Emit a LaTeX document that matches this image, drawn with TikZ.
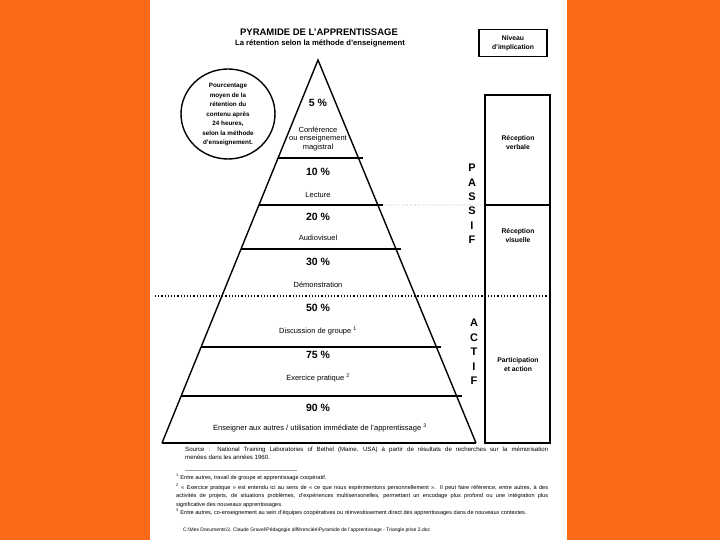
\documentclass[tikz,border=0pt]{standalone}
\usepackage{fontspec}
\setsansfont{Liberation Sans}
\usetikzlibrary{calc}
\definecolor{cFond}{HTML}{F86A18}
\definecolor{cGris}{HTML}{A0A0A0}
\tikzset{
    x=1pt, y=-1pt, font=\sffamily,
    bord/.style={line width=1.4pt, line join=miter},
    palier/.style={line width=1.1pt},
    palierfort/.style={line width=2pt},
    pct/.style={font=\sffamily\bfseries\fontsize{10.5}{12}\selectfont, inner sep=1pt},
    meth/.style={font=\sffamily\fontsize{7.5}{11}\selectfont, align=center, inner sep=1pt},
    lettres/.style={font=\sffamily\bfseries\fontsize{11}{14.4}\selectfont, align=center, inner sep=0pt},
    boite/.style={draw, line width=1.3pt},
    boitelbl/.style={font=\sffamily\bfseries\fontsize{6.8}{9}\selectfont, align=center, inner sep=1pt},
    note/.style={font=\sffamily\fontsize{5.6}{8.4}\selectfont, align=justify, inner sep=0pt, anchor=north west},
}
\begin{document}
\begin{tikzpicture}
    % fond et page
    \fill[cFond] (0,0) rectangle (720,540);
    \fill[white] (150,0) rectangle (567,540);
    \useasboundingbox (0,0) rectangle (720,540);

    % titre
    \node[font=\sffamily\bfseries\fontsize{9.5}{10}\selectfont] (titre) at (319,32)
        {PYRAMIDE DE L'APPRENTISSAGE};
    \node[font=\sffamily\bfseries\fontsize{7.7}{8}\selectfont] (soustitre) at (320,43)
        {La rétention selon la méthode d'enseignement};

    % pyramide
    \coordinate (sommet) at (318,60);
    \coordinate (baseG) at (162,443);
    \coordinate (baseD) at (476,443);
    \draw[bord] (baseG) -- (sommet) -- (baseD);
    \draw[palierfort] (baseG) -- (baseD);
    \foreach \y/\s in {158/palier, 205/palier, 249/palierfort, 347/palier, 396/palier} {
        \draw[\s] ($(sommet)!{(\y-60)/383}!(baseG)$) --
                  ($(sommet)!{(\y-60)/383}!(baseD)+(5,0)$);
    }
    \coordinate (grisG) at ($(sommet)!{145/383}!(baseD)+(5,0)$);
    \coordinate (grisD) at (485,205);
    \draw[cGris, dotted, line width=0.7pt] (grisG) -- (grisD);
    \coordinate (actifG) at (155,296);
    \coordinate (actifD) at (550,296);
    \draw[dotted, line width=1.2pt] (actifG) -- (actifD);

    % paliers
    \node[pct] (p5) at (318,103) {5 \%};
    \node[meth] (m5) at (318,139) {Conférence\\[-2.6pt]ou enseignement\\[-2.6pt]magistral};
    \node[pct] (p10) at (318,172) {10 \%};
    \node[meth] (m10) at (318,195) {Lecture};
    \node[pct] (p20) at (318,217) {20 \%};
    \node[meth] (m20) at (318,238) {Audiovisuel};
    \node[pct] (p30) at (318,262) {30 \%};
    \node[meth] (m30) at (318,285) {Démonstration};
    \node[pct] (p50) at (318,308) {50 \%};
    \node[meth] (m50) at (318,331) {Discussion de groupe \textsuperscript{1}};
    \node[pct] (p75) at (318,355) {75 \%};
    \node[meth] (m75) at (318,378) {Exercice pratique \textsuperscript{2}};
    \node[pct] (p90) at (318,408) {90 \%};
    \node[meth] (m90) at (320,428)
        {Enseigner aux autres / utilisation immédiate de l'apprentissage \textsuperscript{3}};

    % cercle
    \draw[line width=1.4pt] (228,114) ellipse [x radius=47, y radius=45];
    \node[font=\sffamily\bfseries\fontsize{6.3}{9.5}\selectfont, align=center] (cercle) at (228,115)
        {Pourcentage\\moyen de la\\rétention du\\contenu après\\24 heures,\\selon la méthode\\d'enseignement.};

    % niveau d'implication
    \node[boite, minimum width=68, minimum height=27, boitelbl] (niveau) at (513,43)
        {Niveau\\d'implication};
    \draw[boite] (485,95) rectangle (550,443);
    \draw[palier] (485,205) -- (550,205);
    \node[boitelbl] (verbale) at (518,143) {Réception\\verbale};
    \node[boitelbl] (visuelle) at (518,236) {Réception\\visuelle};
    \node[boitelbl] (action) at (518,365) {Participation\\et action};
    \node[lettres] (passif) at (472,204) {P\\A\\S\\S\\I\\F};
    \node[lettres] (actif) at (474,352) {A\\C\\T\\I\\F};

    % source et notes
    \node[note, text width=363pt, font=\sffamily\fontsize{6.1}{8.2}\selectfont] (source) at (185,447)
        {Source : National Training Laboratories of Bethel (Maine, USA) à partir de résultats de recherches sur la mémorisation\linebreak
         menées dans les années 1960.};
    \coordinate (filetG) at (185,470);
    \coordinate (filetD) at (297,470);
    \draw[cGris, line width=0.5pt] (filetG) -- (filetD);
    \node[note, text width=372pt] (note1) at (176,474)
        {\textsuperscript{1} Entre autres, travail de groupe et apprentissage coopératif.};
    \node[note, text width=372pt] (note2) at (176,484)
        {\hangindent=9pt\hangafter=1\textsuperscript{2} «~Exercice pratique~» est entendu ici au sens de «~ce que nous expérimentons personnellement~». Il peut faire référence, entre autres, à des\linebreak
         activités de projets, de situations problèmes, d'expériences multisensorielles, permettant un encodage plus profond ou une intégration plus\linebreak
         significative des nouveaux apprentissages.};
    \node[note, text width=372pt] (note3) at (176,509)
        {\textsuperscript{3} Entre autres, co-enseignement au sein d'équipes coopératives ou réinvestissement direct des apprentissages dans de nouveaux contextes.};
    \node[note, anchor=west, font=\sffamily\fontsize{5}{6}\selectfont] (chemin) at (183,530)
        {C:\textbackslash Mes Documents\textbackslash 3. Claude Gravel\textbackslash Pédagogie différenciée\textbackslash Pyramide de l'apprentissage - Triangle prise 2.doc};
\end{tikzpicture}
\end{document}
